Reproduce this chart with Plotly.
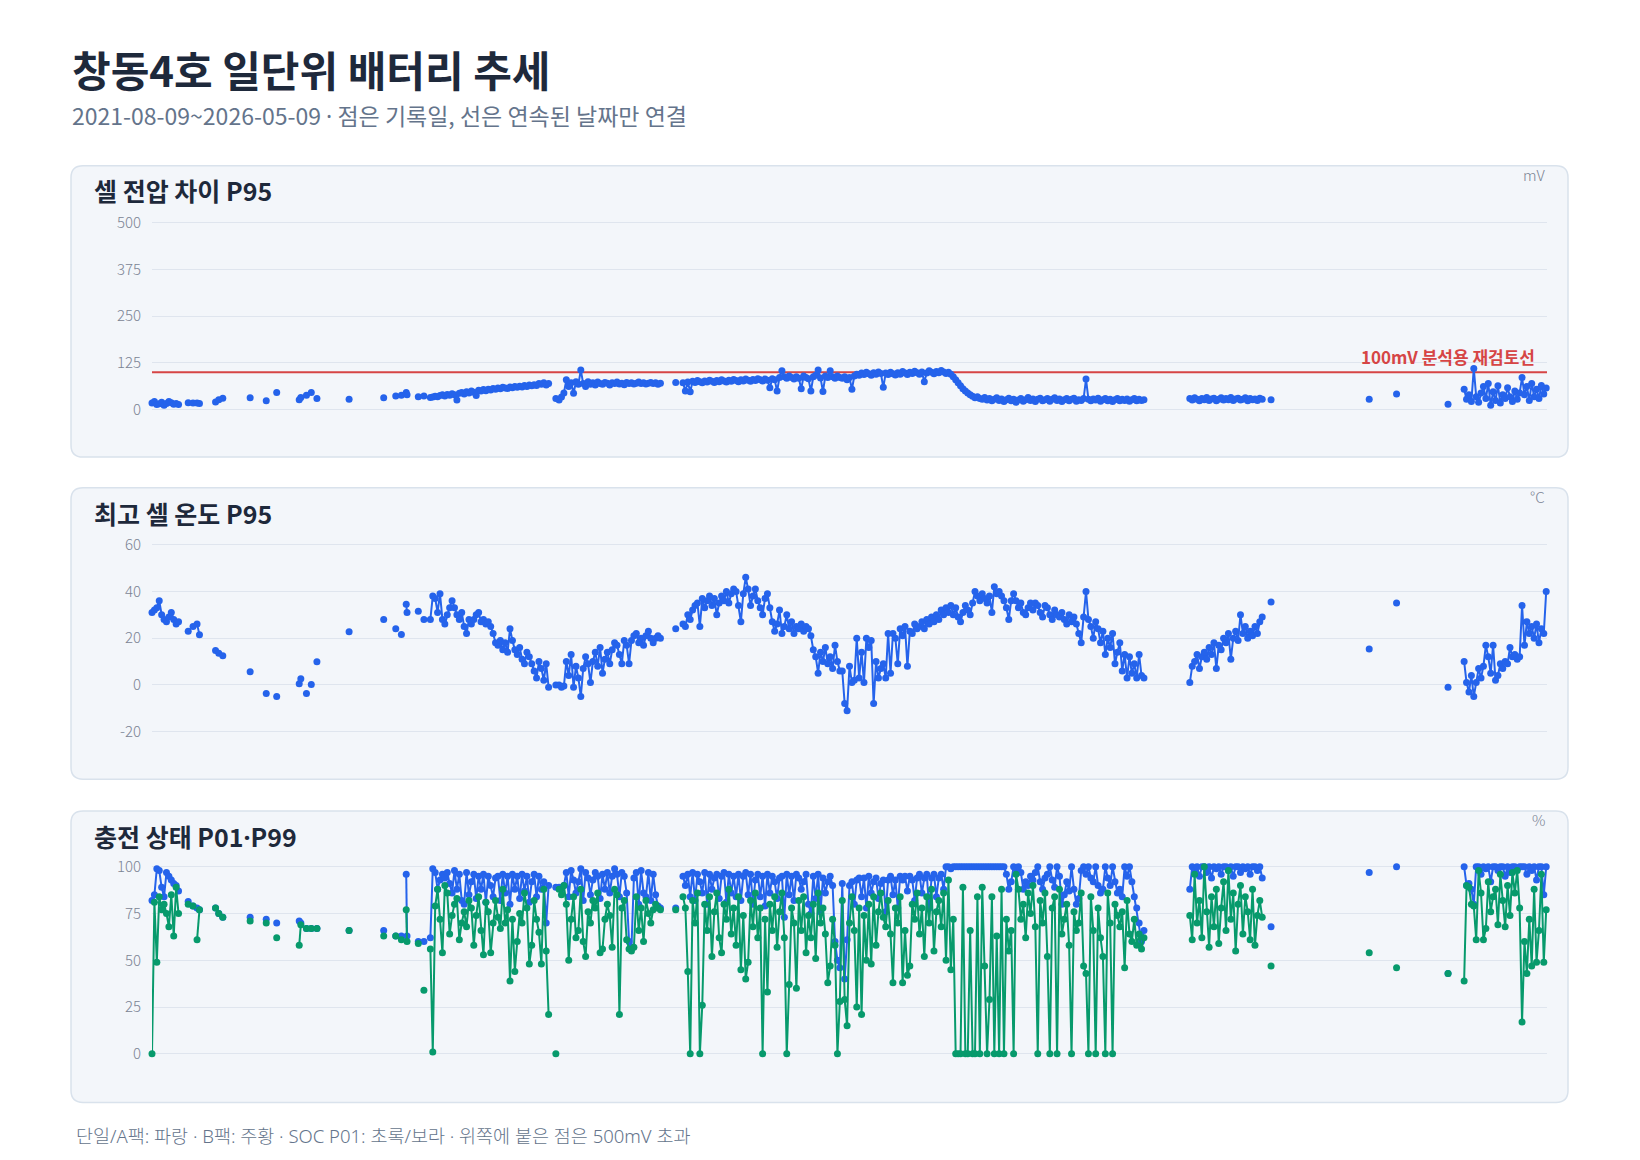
import datetime as dt

import plotly.graph_objects as go

START = dt.date(2021, 8, 9)
END = dt.date(2026, 5, 9)

# record days as offsets from START (dense stretches are sampled every 3rd day)
early_days = list(range(0, 34, 3))
sparse_days = [45, 51, 56, 59, 79, 83, 88, 122, 142, 155, 183, 185, 192, 198,
               205, 245, 288, 303, 310, 316, 317, 331, 338]
late_sparse_days = [1391, 1513, 1547, 1611]

day_offsets = (
    early_days
    + sparse_days
    + list(range(346, 494, 3))
    + [502]
    + list(range(506, 633, 3))
    + [651]
    + list(range(660, 1234, 3))
    + list(range(1290, 1381, 3))
    + late_sparse_days
    + list(range(1631, 1734, 3))
)

# cell voltage spread P95 (mV)
volt_p95 = (
    [18, 22, 14, 16, 20, 12, 17, 22, 19, 15, 17, 14]
    + [19, 18, 18, 17, 21, 27, 31, 32, 24, 46, 27, 33, 39, 46, 30, 28, 32, 37,
       39, 46, 40, 35, 37]
    + [33, 34, 36, 35, 38, 40, 37, 41, 39, 43, 40, 26, 44, 46, 42, 48, 45, 50,
       47, 38, 52, 50, 54, 51, 55, 53, 57, 55, 58, 56, 60, 58, 57, 61, 59, 62,
       60, 63, 61, 65, 62, 66, 64, 67, 65, 70, 68, 72, 66, 70]
    + [30]
    + [26, 34, 45, 80, 62, 72, 44, 75, 68, 106, 70, 62, 75, 68, 72, 66, 74, 70,
       68, 73, 71, 66, 72, 70, 74, 69, 71, 67, 73, 70, 72, 69, 71, 74, 70, 72,
       69, 71, 73, 70, 72, 68, 71]
    + [73]
    + [72, 50, 74, 48, 76, 73, 78, 75, 72, 77, 74, 79, 76, 73, 78, 75, 80, 77,
       74, 79, 76, 81, 78, 75, 80, 77, 82, 79, 76, 81, 78, 83, 80, 77, 82, 79,
       59, 83, 80, 50, 86, 104, 88, 84, 90, 86, 82, 88, 84, 56, 90, 86, 83, 50,
       88, 92, 106, 85, 49, 90, 86, 104, 88, 84, 90, 86]
    + [84, 88, 80, 86, 55, 90, 95, 92, 98, 94,
       100, 96, 92, 99, 95, 101, 97, 60, 98, 94,
       100, 96, 93, 99, 95, 102, 98, 94, 100, 97,
       103, 99, 95, 101, 75, 98, 104, 100, 96, 102,
       99, 105, 101, 97, 100, 95, 88, 80, 72, 64,
       56, 50, 45, 40, 36, 32, 35, 30, 28, 33,
       26, 30, 24, 28, 32, 25, 29, 22, 27, 31,
       24, 28, 20, 26, 30, 23, 27, 33, 25, 29,
       22, 28, 31, 24, 27, 30, 23, 28, 32, 25,
       29, 22, 27, 30, 24, 28, 31, 23, 27, 25,
       30, 82, 28, 24, 29, 26, 31, 23, 27, 30,
       24, 28, 22, 27, 30, 24, 28, 25, 29, 23,
       27, 30, 24, 28, 25, 27]
    + [30, 26, 32, 28, 24, 30, 27, 33, 25, 29, 31, 24, 28, 32, 26, 30, 27, 33,
       25, 29, 31, 26, 28, 32, 24, 30, 27, 29, 25, 31, 28]
    + [27, 28, 42, 15]
    + [55, 28, 40, 22, 110, 35, 20, 45, 62, 30, 70, 12, 48, 25, 64, 18, 40, 30,
       59, 35, 22, 50, 28, 45, 86, 40, 62, 25, 70, 35, 55, 30, 65, 42, 58]
)

# max cell temperature P95 (°C)
temp_p95 = (
    [31, 32, 33, 36, 30, 28, 27, 29, 31, 28, 26, 27]
    + [23, 25, 26, 21.5, 14.7, 13.5, 12.5, 5.6, -3.7, -5, 0.5, 2.6, -3.7, 0.2,
       9.9, 22.7, 28, 24, 21.6, 34.5, 31, 31.5, 28]
    + [28, 38, 37, 31, 39, 28, 26, 30, 33, 36, 33, 30, 28, 31, 25, 22, 28, 26,
       28, 30, 31, 27, 28, 26, 27, 25, 22, 18, 17, 19, 15, 18, 14, 24, 19, 15,
       13, 16, 11, 9, 14, 12, 9, 6, 3, 10, 7, 2, 9, -1]
    + [0]
    + [0, -1, -0.5, 10, 4, 13, -1, 8, 3, -5, 7, 12, 9, 1, 10, 14, 8, 16, 5, 11,
       14, 9, 15, 18, 17, 13, 9, 19, 17, 9, 19, 21, 22, 18, 20, 17, 21, 23, 20,
       18, 20, 21, 20]
    + [24]
    + [26, 25, 30, 28, 32, 34, 35, 25, 37, 33, 36, 38, 34, 37, 30, 35, 38, 36,
       40, 35, 39, 41, 40, 34, 27, 39, 46, 41, 34, 38, 41, 36, 33, 30, 37, 39,
       33, 27, 23, 26, 32, 22, 25, 30, 24, 27, 22, 25, 24, 26, 23, 25, 24, 21,
       15, 12, 5, 14, 10, 16, 9, 12, 7, 17, 10, 6]
    + [6, -8, -11, 8, 1, 2, 20, 3, 14, 1,
       20, 16, 19, -8, 10, 3, 7, 9, 3, 22,
       5, 22, 20, 9, 24, 21, 25, 8, 23, 22,
       26, 24, 25, 27, 24, 28, 26, 29, 27, 30,
       28, 32, 30, 33, 31, 34, 30, 33, 29, 27,
       31, 34, 32, 30, 35, 40, 38, 36, 39, 37,
       35, 38, 31, 42, 39, 40, 38, 36, 33, 28,
       36, 39, 36, 33, 35, 31, 30, 33, 35, 32,
       35, 34, 31, 29, 34, 33, 30, 28, 32, 30,
       29, 31, 28, 26, 30, 27, 29, 26, 22, 18,
       29, 40, 28, 25, 20, 27, 24, 18, 23, 13,
       20, 16, 22, 9, 14, 18, 6, 13, 3, 12,
       5, 9, 3, 13, 4, 3]
    + [1, 8, 10, 13, 7, 12, 14, 11, 16, 13, 18, 7, 17, 15, 20, 18, 22, 11, 20,
       23, 19, 30, 22, 25, 20, 23, 21, 25, 22, 27, 29]
    + [35.5, 15.4, 35, -1]
    + [10, 1, -3, 4, -5, 1, 7, 3, 8, 17, 12, 5, 17, 2, 4, 9, 7, 10, 9, 16, 12,
       13, 11, 12, 34, 17, 27, 22, 25, 20, 26, 18, 24, 22, 40]
)

# state of charge P99 (%)
soc_p99 = (
    [82, 85, 99, 98, 89, 84, 97, 95, 93, 91, 90, 87]
    + [81.5, 79, 78, 77, 78, 75, 73, 73, 72, 70, 71, 70, 67, 67, 67, 66, 66,
       63, 63, 96, 63, 60, 60]
    + [62, 99, 97, 88, 93, 96, 94, 97, 91, 86, 98, 88, 96, 82, 80, 97, 85, 92,
       96, 83, 95, 88, 96, 81, 95, 90, 84, 94, 95, 82, 96, 86, 95, 80, 96, 88,
       95, 83, 96, 87, 95, 81, 92, 96, 84, 95, 88, 92, 70, 90]
    + [89]
    + [89, 88, 90, 97, 84, 98, 93, 86, 92, 99, 82, 97, 94, 85, 93, 97, 95, 83,
       96, 88, 97, 86, 95, 99, 96, 84, 97, 95, 86, 60, 57, 94, 97, 80, 98, 86,
       84, 97, 82, 96, 85, 79, 78]
    + [78]
    + [95, 90, 96, 84, 97, 82, 96, 92, 86, 97, 80, 96, 88, 94, 96, 83, 95, 97,
       81, 96, 86, 95, 84, 96, 82, 95, 97, 85, 96, 80, 93, 96, 84, 95, 79, 96,
       86, 95, 92, 83, 94, 95, 73, 96, 85, 95, 82, 96, 94, 88, 92, 96, 80, 75,
       95, 83, 96, 76, 94, 86, 92, 95, 90, 60, 50, 46]
    + [91, 40, 61, 90, 92, 80, 93, 94, 84, 94,
       78, 95, 86, 92, 94, 83, 91, 93, 76, 93,
       95, 85, 93, 78, 95, 93, 95, 87, 95, 93,
       82, 94, 96, 86, 94, 96, 78, 94, 96, 84,
       94, 96, 88, 100, 100, 99, 100, 100, 100, 100,
       100, 100, 100, 100, 100, 100, 100, 100, 100, 100,
       100, 100, 100, 100, 100, 100, 100, 100, 96, 88,
       92, 100, 99, 100, 97, 88, 92, 90, 95, 93,
       97, 100, 92, 88, 94, 96, 100, 93, 89, 100,
       95, 80, 85, 92, 87, 100, 88, 80, 83, 98,
       100, 96, 100, 94, 92, 100, 90, 86, 88, 100,
       94, 90, 100, 92, 86, 88, 84, 100, 95, 100,
       92, 84, 78, 70, 60, 66]
    + [88, 100, 98, 100, 95, 100, 100, 97, 100, 94, 100, 99, 100, 96, 100, 100,
       98, 100, 95, 100, 100, 97, 100, 99, 100, 96, 100, 100, 98, 100, 94]
    + [68, 97, 100, 43]
    + [100, 90, 91, 88, 80, 100, 100, 96, 100, 99, 100, 92, 100, 100, 98, 100,
       100, 95, 100, 97, 100, 100, 99, 100, 100, 100, 96, 100, 98, 100, 93,
       100, 100, 85, 100]
)

# state of charge P01 (%)
soc_p01 = (
    [0, 81, 49, 84, 77, 80, 75, 68, 85, 63, 89, 75]
    + [80, 79, 61, 77, 78, 75, 73, 71, 70, 62, 58, 69, 67, 67, 67, 66, 63, 63,
       61, 77, 60, 59, 34]
    + [56, 1, 79, 88, 72, 54, 90, 86, 64, 74, 80, 83, 61, 70, 76, 68, 82, 78,
       58, 74, 84, 66, 53, 81, 76, 54, 70, 82, 73, 67, 88, 70, 77, 39, 72, 44,
       60, 75, 70, 86, 78, 48, 58, 82, 72, 65, 48, 88, 55, 21]
    + [0]
    + [88, 85, 90, 80, 50, 72, 84, 62, 66, 88, 60, 52, 76, 70, 82, 78, 86, 54,
       56, 72, 80, 74, 57, 88, 85, 21, 78, 82, 61, 56, 55, 57, 84, 66, 78, 60,
       82, 75, 70, 77, 80, 78, 77]
    + [77]
    + [84, 78, 44, 0, 82, 70, 86, 0, 26, 80, 66, 84, 52, 76, 86, 62, 54, 80, 72,
       88, 64, 78, 58, 84, 45, 74, 40, 49, 82, 68, 86, 62, 78, 0, 72, 33, 80,
       66, 84, 57, 76, 86, 62, 0, 37, 78, 70, 35, 82, 66, 84, 54, 74, 62, 80,
       51, 86, 70, 78, 64, 38, 47, 72, 58, 0, 28]
    + [82, 29, 15, 70, 84, 66, 25, 78, 21, 74,
       50, 80, 48, 84, 58, 76, 86, 73, 68, 82,
       64, 38, 78, 70, 84, 38, 66, 42, 47, 80,
       72, 86, 64, 78, 52, 84, 70, 88, 55, 76,
       82, 68, 86, 50, 93, 45, 72, 0, 0, 0,
       89, 0, 0, 66, 0, 0, 84, 0, 89, 47,
       0, 29, 84, 0, 63, 0, 88, 0, 72, 55,
       66, 0, 96, 88, 72, 80, 62, 86, 75, 90,
       68, 0, 82, 70, 86, 52, 0, 78, 84, 0,
       88, 64, 72, 80, 58, 0, 76, 66, 70, 86,
       47, 43, 0, 84, 66, 0, 78, 62, 52, 0,
       86, 70, 0, 80, 74, 68, 76, 46, 82, 64,
       60, 72, 58, 64, 56, 62]
    + [74, 61, 96, 70, 82, 62, 100, 76, 57, 84, 68, 88, 59, 78, 92, 66, 98, 72,
       86, 55, 80, 90, 64, 84, 76, 61, 88, 58, 74, 82, 73]
    + [47, 54, 46, 43]
    + [39, 90, 89, 80, 79, 61, 98, 86, 61, 67, 92, 76, 84, 88, 69, 96, 82, 68,
       90, 74, 97, 86, 98, 78, 17, 60, 43, 72, 47, 88, 49, 66, 96, 49, 77]
)

volt_ticks = [0, 125, 250, 375, 500]
temp_ticks = [-20, 0, 20, 40, 60]
soc_ticks = [0, 25, 50, 75, 100]
REVIEW_LINE_MV = 100

# the page body keeps its default 8px margin, so the figure is 16px smaller
PAGE_W, PAGE_H, BODY_MARGIN = 1640, 1160, 8
W, H = PAGE_W - 2 * BODY_MARGIN, PAGE_H - 2 * BODY_MARGIN
FONT = "Noto Sans CJK KR, Noto Sans, sans-serif"
LATIN_FIRST = "Noto Sans, Noto Sans CJK KR, sans-serif"
BLUE = "#2563eb"
GREEN = "#079a6c"
RED = "#d64545"
INK = "#1e293b"
MUTED = "#64748b"
TICK = "#7b8494"
GRID = "#dfe5ee"
MAX_GAP = 3  # days; lines only join neighbouring records

# narrow middle dot (the CJK font draws it full width)
DOT = '<span style="font-family:Noto Sans">·</span>'


def px(x):
    return (x - BODY_MARGIN) / W


def py(y):
    return 1 - (y - BODY_MARGIN) / H


def gapped(days, values):
    xs, ys = [], []
    prev = None
    for d, v in zip(days, values):
        if prev is not None and d - prev > MAX_GAP:
            xs.append(None)
            ys.append(None)
        xs.append(START + dt.timedelta(days=d))
        ys.append(v)
        prev = d
    return xs, ys


def y_axis_setup(top_px, bottom_px, ticks, pad):
    lo, hi = ticks[0], ticks[-1]
    k = (bottom_px - top_px) / (hi - lo)
    return dict(
        domain=[py(bottom_px + pad * k), py(top_px - pad * k)],
        range=[lo - pad, hi + pad],
        tickvals=ticks,
        ticktext=[str(t) for t in ticks],
        showgrid=True,
        gridcolor=GRID,
        gridwidth=1,
        zeroline=False,
        showline=False,
        ticks="",
        ticklabelstandoff=10,
        tickfont=dict(family=FONT, size=15, color=TICK, weight=300),
        fixedrange=True,
    )


def rounded_rect(x0, y0, x1, y1, r):
    return (
        f"M {px(x0 + r)},{py(y0)} L {px(x1 - r)},{py(y0)} "
        f"Q {px(x1)},{py(y0)} {px(x1)},{py(y0 + r)} "
        f"L {px(x1)},{py(y1 - r)} Q {px(x1)},{py(y1)} {px(x1 - r)},{py(y1)} "
        f"L {px(x0 + r)},{py(y1)} Q {px(x0)},{py(y1)} {px(x0)},{py(y1 - r)} "
        f"L {px(x0)},{py(y0 + r)} Q {px(x0)},{py(y0)} {px(x0 + r)},{py(y0)} Z"
    )


panel_tops = [161, 486, 812]
panel_titles = ["셀 전압 차이 P95", "최고 셀 온도 P95", f"충전 상태 P01{DOT}P99"]
panel_units = ["mV", "°C", "%"]
PANEL_H = 294
PLOT_L, PLOT_R = 152, 1547

fig = go.Figure()


def add_series(values, color, axis_idx):
    xs, ys = gapped(day_offsets, values)
    suffix = "" if axis_idx == 1 else str(axis_idx)
    fig.add_trace(go.Scatter(
        x=xs, y=ys,
        mode="lines+markers",
        line=dict(color=color, width=2),
        marker=dict(color=color, size=7),
        connectgaps=False,
        cliponaxis=False,
        hoverinfo="skip",
        showlegend=False,
        xaxis="x" + suffix,
        yaxis="y" + suffix,
    ))


add_series(volt_p95, BLUE, 1)
add_series(temp_p95, BLUE, 2)
add_series(soc_p99, BLUE, 3)
add_series(soc_p01, GREEN, 3)

x_common = dict(
    type="date",
    range=[START.isoformat(), END.isoformat()],
    domain=[px(PLOT_L), px(PLOT_R)],
    showticklabels=False,
    showgrid=False,
    zeroline=False,
    showline=False,
    ticks="",
    fixedrange=True,
)

shapes = []
annotations = []
for top, title, unit in zip(panel_tops, panel_titles, panel_units):
    shapes.append(dict(
        type="path", xref="paper", yref="paper",
        path=rounded_rect(71, top, 1568, top + PANEL_H, 12),
        fillcolor="#f3f6fa",
        line=dict(color="#d9e2ec", width=1.5),
        layer="below",
    ))
    annotations.append(dict(
        x=px(92), y=py(top + 25), xref="paper", yref="paper",
        xanchor="left", yanchor="middle", showarrow=False,
        text=f"<b>{title}</b>",
        font=dict(family=FONT, size=25, color=INK),
    ))
    annotations.append(dict(
        x=px(1547), y=py(top + 9), xref="paper", yref="paper",
        xanchor="right", yanchor="middle", showarrow=False,
        text=unit,
        font=dict(family=FONT, size=15, color=TICK, weight=300),
    ))

shapes.append(dict(
    type="line", xref="x domain", yref="y",
    x0=0, x1=1, y0=REVIEW_LINE_MV, y1=REVIEW_LINE_MV,
    line=dict(color=RED, width=2),
    layer="below",
))
annotations.append(dict(
    x=px(1537), y=REVIEW_LINE_MV, xref="paper", yref="y",
    xanchor="right", yanchor="bottom", yshift=1, showarrow=False,
    text="<b>100mV 분석용 재검토선</b>",
    font=dict(family=FONT, size=17, color=RED),
))
annotations.append(dict(
    x=px(70), y=py(63), xref="paper", yref="paper",
    xanchor="left", yanchor="middle", showarrow=False,
    text="<b>창동4호 일단위 배터리 추세</b>",
    font=dict(family=FONT, size=42, color=INK),
))
annotations.append(dict(
    x=px(70), y=py(110), xref="paper", yref="paper",
    xanchor="left", yanchor="middle", showarrow=False,
    text=f"2021-08-09~2026-05-09 {DOT} 점은 기록일, 선은 연속된 날짜만 연결",
    font=dict(family=FONT, size=23, color=MUTED),
))
annotations.append(dict(
    x=px(74), y=py(1139), xref="paper", yref="paper",
    xanchor="left", yanchor="middle", showarrow=False,
    text="단일/A팩: 파랑 · B팩: 주황 · SOC P01: 초록/보라 · 위쪽에 붙은 점은 500mV 초과",
    font=dict(family=LATIN_FIRST, size=18.5, color=MUTED, weight=300),
))

fig.update_layout(
    width=W, height=H,
    margin=dict(l=0, r=0, t=0, b=0),
    paper_bgcolor="white",
    plot_bgcolor="rgba(0,0,0,0)",
    font=dict(family=FONT),
    showlegend=False,
    xaxis=dict(x_common, anchor="y"),
    xaxis2=dict(x_common, anchor="y2", matches="x"),
    xaxis3=dict(x_common, anchor="y3", matches="x"),
    yaxis=dict(y_axis_setup(218.3, 407.3, volt_ticks, 15), anchor="x"),
    yaxis2=dict(y_axis_setup(543.3, 732.0, temp_ticks, 2.5), anchor="x2"),
    yaxis3=dict(y_axis_setup(868.3, 1057.0, soc_ticks, 3), anchor="x3"),
    shapes=shapes,
    annotations=annotations,
)

fig.write_html("out.html")
